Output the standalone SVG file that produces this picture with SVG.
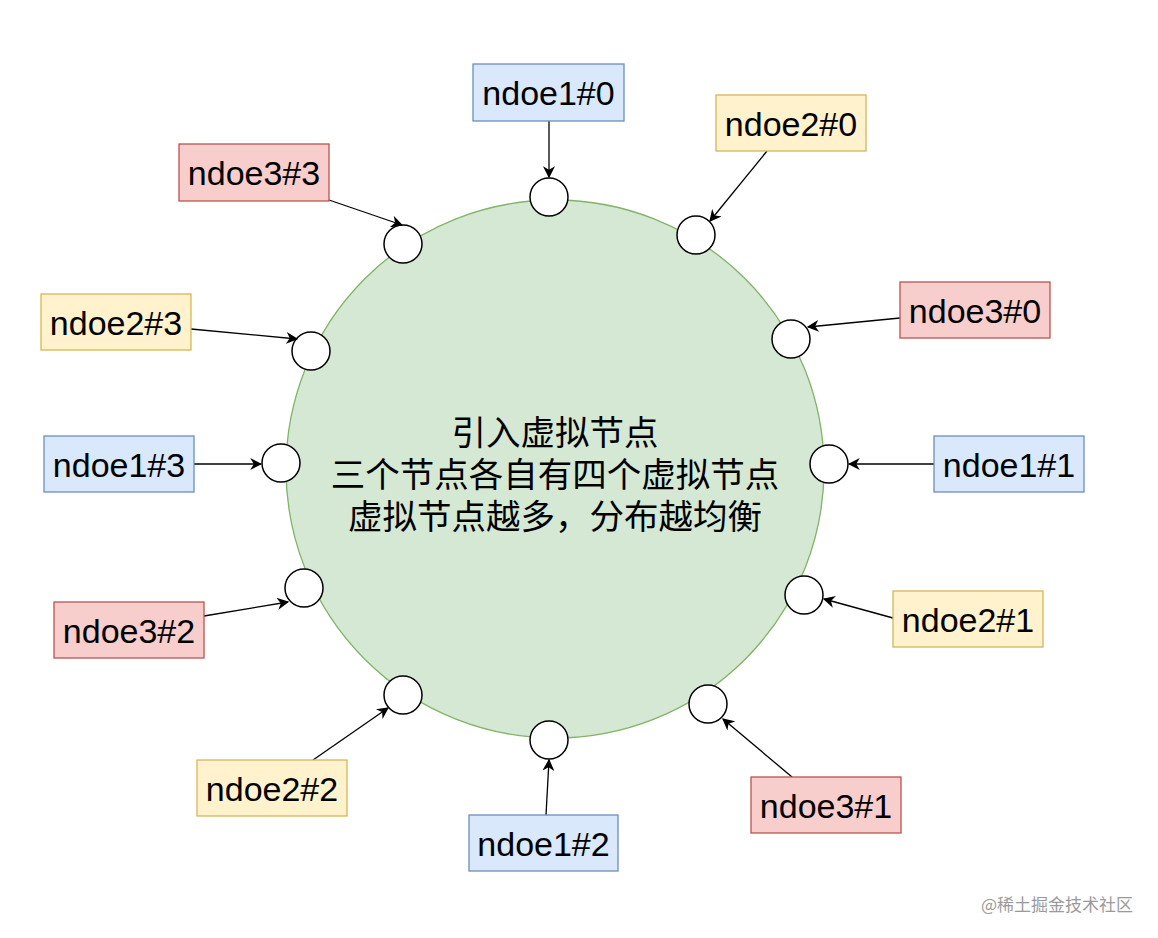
<svg xmlns="http://www.w3.org/2000/svg" width="1158" height="938" viewBox="0 0 1158 938">
<defs>
<style>
.lbl{font-family:"Liberation Sans",Arial,sans-serif;font-size:34px;fill:#000;text-anchor:middle;dominant-baseline:central}
.b{fill:#dae8fc;stroke:#6c8ebf;stroke-width:1.3}
.y{fill:#fff2cc;stroke:#d6b656;stroke-width:1.3}
.r{fill:#f8cecc;stroke:#b85450;stroke-width:1.3}
.v{fill:#fff;stroke:#000;stroke-width:1.5}
.c line{stroke:#000;stroke-width:1.3;marker-end:url(#ah)}
.mid{font-family:"Noto Sans CJK SC","Liberation Sans",sans-serif;font-size:34.5px;fill:#000;text-anchor:middle;dominant-baseline:central}
</style>
<marker id="ah" viewBox="0 0 10 10" refX="9" refY="5" markerWidth="12" markerHeight="12" markerUnits="userSpaceOnUse" orient="auto">
<path d="M0,0 L10,5 L0,10 L3,5 z" fill="#000"/>
</marker>
</defs>
<rect width="1158" height="938" fill="#fff"/>
<g id="ring">
<circle cx="555" cy="469" r="269" fill="#d5e8d4" stroke="#82b366" stroke-width="1.3"/>
<text class="mid" x="555" y="430">引入虚拟节点</text>
<text class="mid" x="555" y="472">三个节点各自有四个虚拟节点</text>
<text class="mid" x="555" y="514">虚拟节点越多，分布越均衡</text>
</g>
<g id="vnodes">
<circle id="v10" class="v" cx="549" cy="197" r="19"/>
<circle id="v20" class="v" cx="696" cy="235" r="19"/>
<circle id="v30" class="v" cx="791" cy="339" r="19"/>
<circle id="v11" class="v" cx="829" cy="464" r="19"/>
<circle id="v21" class="v" cx="804" cy="595" r="19"/>
<circle id="v31" class="v" cx="708" cy="704" r="19"/>
<circle id="v12" class="v" cx="549" cy="740" r="19"/>
<circle id="v22" class="v" cx="403" cy="695" r="19"/>
<circle id="v32" class="v" cx="304" cy="588" r="19"/>
<circle id="v13" class="v" cx="281" cy="463" r="19"/>
<circle id="v23" class="v" cx="311" cy="351" r="19"/>
<circle id="v33" class="v" cx="403" cy="244" r="19"/>
</g>
<g id="connectors" class="c">
<line x1="549" y1="121" x2="549" y2="177"/>
<line x1="767" y1="151" x2="710" y2="221"/>
<line x1="900" y1="318" x2="808" y2="327"/>
<line x1="934" y1="464" x2="849" y2="464"/>
<line x1="893" y1="618" x2="824" y2="599"/>
<line x1="792" y1="777" x2="723" y2="719"/>
<line x1="546" y1="815" x2="549" y2="760"/>
<line x1="313" y1="760" x2="388" y2="708"/>
<line x1="204" y1="616" x2="288" y2="602"/>
<line x1="194" y1="464" x2="261" y2="464"/>
<line x1="191" y1="329" x2="297" y2="339"/>
<line x1="329" y1="200" x2="402" y2="225"/>
</g>
<g id="n10"><rect class="b" x="473" y="64" width="151" height="57"/><text class="lbl" x="548.5" y="93">ndoe1#0</text></g>
<g id="n20"><rect class="y" x="716" y="95" width="150" height="56"/><text class="lbl" x="791" y="124">ndoe2#0</text></g>
<g id="n33"><rect class="r" x="179" y="144" width="150" height="57"/><text class="lbl" x="254" y="173">ndoe3#3</text></g>
<g id="n23"><rect class="y" x="41" y="294" width="150" height="56"/><text class="lbl" x="116" y="323">ndoe2#3</text></g>
<g id="n30"><rect class="r" x="900" y="282" width="150" height="56"/><text class="lbl" x="975" y="311">ndoe3#0</text></g>
<g id="n13"><rect class="b" x="44" y="436" width="150" height="56"/><text class="lbl" x="119" y="465">ndoe1#3</text></g>
<g id="n11"><rect class="b" x="934" y="436" width="150" height="56"/><text class="lbl" x="1009" y="465">ndoe1#1</text></g>
<g id="n32"><rect class="r" x="54" y="602" width="150" height="56"/><text class="lbl" x="129" y="631">ndoe3#2</text></g>
<g id="n21"><rect class="y" x="893" y="591" width="150" height="56"/><text class="lbl" x="968" y="620">ndoe2#1</text></g>
<g id="n22"><rect class="y" x="197" y="760" width="150" height="56"/><text class="lbl" x="272" y="789">ndoe2#2</text></g>
<g id="n12"><rect class="b" x="469" y="815" width="149" height="56"/><text class="lbl" x="543.5" y="844">ndoe1#2</text></g>
<g id="n31"><rect class="r" x="751" y="777" width="150" height="56"/><text class="lbl" x="826" y="806">ndoe3#1</text></g>
<text x="1133" y="903" font-family="Noto Sans CJK SC,Liberation Sans,sans-serif" font-size="17" fill="#9a9a9a" text-anchor="end" dominant-baseline="central">@稀土掘金技术社区</text>
</svg>
